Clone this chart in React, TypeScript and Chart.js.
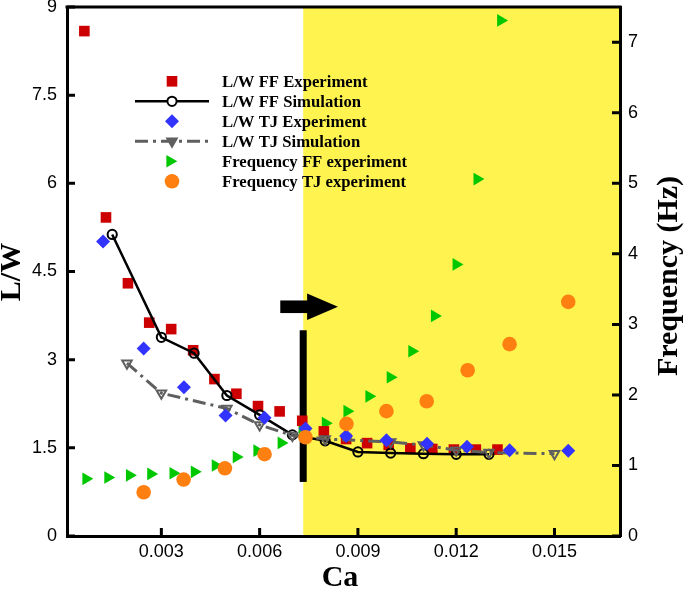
import React, { useEffect, useRef } from 'react';
import { Chart, registerables } from 'chart.js';

Chart.register(...registerables);

// ---------- data ----------
const ffExpCa = [0.00065, 0.00131, 0.00198, 0.00263, 0.0033, 0.00397, 0.00462, 0.00529, 0.00595, 0.00661, 0.0073, 0.00796, 0.00864, 0.00928, 0.00994, 0.0106, 0.01127, 0.01193, 0.0126, 0.01326];
const ffExpLW = [8.59, 5.42, 4.30, 3.63, 3.52, 3.16, 2.67, 2.42, 2.21, 2.12, 1.96, 1.78, 1.65, 1.58, 1.55, 1.49, 1.48, 1.47, 1.47, 1.47];

const ffSimCa = [0.0015, 0.003, 0.004, 0.005, 0.006, 0.007, 0.008, 0.009, 0.010, 0.011, 0.012, 0.013];
const ffSimLW = [5.13, 3.38, 3.11, 2.39, 2.06, 1.72, 1.62, 1.43, 1.41, 1.40, 1.39, 1.39];

const tjExpCa = [0.00122, 0.00246, 0.00369, 0.00496, 0.00615, 0.0074, 0.00864, 0.00987, 0.01111, 0.01233, 0.01363, 0.01542];
const tjExpLW = [5.01, 3.19, 2.53, 2.05, 2.01, 1.83, 1.70, 1.63, 1.57, 1.52, 1.46, 1.45];

const tjSimCa = [0.00195, 0.003, 0.005, 0.006, 0.007, 0.008, 0.010, 0.011, 0.012, 0.013, 0.015];
const tjSimLW = [2.94, 2.43, 2.17, 1.89, 1.71, 1.65, 1.60, 1.55, 1.46, 1.42, 1.40];

const freqFFCa = [0.0007, 0.00137, 0.00203, 0.00268, 0.00336, 0.00401, 0.00465, 0.00529, 0.00592, 0.00666, 0.0073, 0.00801, 0.00867, 0.00934, 0.00999, 0.01065, 0.01134, 0.0120, 0.01264, 0.01336];
const freqFF = [0.81, 0.83, 0.86, 0.88, 0.89, 0.91, 1.00, 1.12, 1.21, 1.32, 1.49, 1.60, 1.77, 1.98, 2.25, 2.62, 3.12, 3.85, 5.06, 7.31];

const freqTJCa = [0.00246, 0.00368, 0.00494, 0.00615, 0.0074, 0.00865, 0.00987, 0.0111, 0.01235, 0.01363, 0.01542];
const freqTJ = [0.62, 0.80, 0.96, 1.16, 1.40, 1.59, 1.77, 1.91, 2.35, 2.72, 3.32];

const xTicks = [0.003, 0.006, 0.009, 0.012, 0.015];
const yTicks = [0, 1.5, 3, 4.5, 6, 7.5, 9];
const y1Ticks = [0, 1, 2, 3, 4, 5, 6, 7];

const legendLabels = [
  'L/W FF Experiment',
  'L/W FF Simulation',
  'L/W TJ Experiment',
  'L/W TJ Simulation',
  'Frequency FF experiment',
  'Frequency TJ experiment',
];

// annotation values (data coordinates)
const regionStartCa = 0.00733;
const barLW = [0.92, 3.5];
const arrowCa = [0.00663, 0.00745, 0.00839];
const arrowLW = 3.9;

// ---------- styles ----------
const RED = '#cc0000';
const BLUE = '#3333ff';
const GREEN = '#00c800';
const ORANGE = '#ff7f10';
const GRAY = '#5f5f5f';
const YELLOW = '#fff44f';
const SERIF = '"Liberation Serif", "Times New Roman", serif';
const SANS = '"Liberation Sans", Arial, sans-serif';
const DASH = [13, 5, 3, 5];

const pts = (xs: number[], ys: number[]) => xs.map((x, i) => ({ x, y: ys[i] }));

function tri(ctx: CanvasRenderingContext2D, x: number, y: number, r: number, rotDeg: number) {
  let rad = (rotDeg * Math.PI) / 180;
  ctx.beginPath();
  for (let i = 0; i < 3; i++) {
    const px = x + Math.sin(rad) * r;
    const py = y - Math.cos(rad) * r;
    if (i === 0) ctx.moveTo(px, py);
    else ctx.lineTo(px, py);
    rad += (2 * Math.PI) / 3;
  }
  ctx.closePath();
}

const decor = {
  id: 'decor',
  beforeDraw(chart: any) {
    const { ctx, chartArea: a, scales } = chart;
    const x0 = scales.x.getPixelForValue(regionStartCa);
    ctx.save();
    ctx.fillStyle = YELLOW;
    ctx.fillRect(x0, a.top, a.right - x0, a.bottom - a.top);
    ctx.restore();
  },
  beforeDatasetsDraw(chart: any) {
    const { ctx, scales } = chart;
    const { x, y } = scales;
    ctx.save();
    const bx = x.getPixelForValue(regionStartCa);
    ctx.fillStyle = '#000';
    ctx.fillRect(bx - 3.5, y.getPixelForValue(barLW[1]), 7, y.getPixelForValue(barLW[0]) - y.getPixelForValue(barLW[1]));
    const ay = y.getPixelForValue(arrowLW);
    const a0 = x.getPixelForValue(arrowCa[0]);
    const a1 = x.getPixelForValue(arrowCa[1]);
    const a2 = x.getPixelForValue(arrowCa[2]);
    ctx.fillRect(a0, ay - 6.3, a1 - a0 + 1, 12.6);
    ctx.beginPath();
    ctx.moveTo(a1, ay - 13.3);
    ctx.lineTo(a2, ay);
    ctx.lineTo(a1, ay + 13.3);
    ctx.closePath();
    ctx.fill();
    ctx.restore();
  },
  afterDraw(chart: any) {
    const { ctx, chartArea: a, scales } = chart;
    const { x, y, y1 } = scales;
    ctx.save();
    ctx.strokeStyle = '#000';
    ctx.lineWidth = 3;
    ctx.beginPath();
    ctx.moveTo(a.left - 1.5, a.top);
    ctx.lineTo(a.right + 1.5, a.top);
    ctx.stroke();
    const TL = 8;
    ctx.beginPath();
    yTicks.forEach((v) => {
      const p = y.getPixelForValue(v);
      ctx.moveTo(a.left, p);
      ctx.lineTo(a.left + TL, p);
    });
    y1Ticks.forEach((v) => {
      const p = y1.getPixelForValue(v);
      ctx.moveTo(a.right, p);
      ctx.lineTo(a.right - TL, p);
    });
    xTicks.forEach((v) => {
      const p = x.getPixelForValue(v);
      ctx.moveTo(p, a.bottom);
      ctx.lineTo(p, a.bottom - TL);
    });
    ctx.stroke();

    ctx.fillStyle = '#000';
    ctx.font = `bold 30px ${SERIF}`;
    ctx.textAlign = 'center';
    ctx.textBaseline = 'middle';
    ctx.fillText('Ca', 340, 578);
    ctx.save();
    ctx.translate(12, 272);
    ctx.rotate(-Math.PI / 2);
    ctx.fillText('L/W', 0, 0);
    ctx.restore();
    ctx.save();
    ctx.translate(669, 276);
    ctx.rotate(-Math.PI / 2);
    ctx.fillText('Frequency (Hz)', 0, 0);
    ctx.restore();

    const mx = 172;
    const l0 = 135;
    const l1 = 209;
    const tx = 222;
    const rowY = (i: number) => 81.3 + i * 20;
    ctx.font = `bold 16.7px ${SERIF}`;
    ctx.textAlign = 'left';
    ctx.textBaseline = 'middle';
    legendLabels.forEach((lab, i) => {
      const cy = rowY(i);
      ctx.fillStyle = '#000';
      ctx.fillText(lab, tx, cy + 1);
      if (i === 0) {
        ctx.fillStyle = RED;
        ctx.fillRect(mx - 5.3, cy - 5.3, 10.6, 10.6);
      } else if (i === 1) {
        ctx.strokeStyle = '#000';
        ctx.lineWidth = 2.5;
        ctx.beginPath();
        ctx.moveTo(l0, cy);
        ctx.lineTo(l1, cy);
        ctx.stroke();
        ctx.beginPath();
        ctx.arc(mx, cy, 4.6, 0, Math.PI * 2);
        ctx.fillStyle = '#fff';
        ctx.fill();
        ctx.lineWidth = 2;
        ctx.stroke();
      } else if (i === 2) {
        ctx.fillStyle = BLUE;
        ctx.beginPath();
        ctx.moveTo(mx - 7, cy);
        ctx.lineTo(mx, cy - 7);
        ctx.lineTo(mx + 7, cy);
        ctx.lineTo(mx, cy + 7);
        ctx.closePath();
        ctx.fill();
      } else if (i === 3) {
        ctx.strokeStyle = GRAY;
        ctx.lineWidth = 3;
        ctx.setLineDash(DASH);
        ctx.beginPath();
        ctx.moveTo(l0, cy);
        ctx.lineTo(l1, cy);
        ctx.stroke();
        ctx.setLineDash([]);
        ctx.fillStyle = GRAY;
        ctx.lineWidth = 2;
        tri(ctx, mx, cy, 5.5, 180);
        ctx.fill();
        ctx.stroke();
      } else if (i === 4) {
        ctx.fillStyle = GREEN;
        tri(ctx, mx - 2, cy, 7.3, 90);
        ctx.fill();
      } else {
        ctx.fillStyle = ORANGE;
        ctx.beginPath();
        ctx.arc(mx, cy, 7.3, 0, Math.PI * 2);
        ctx.fill();
      }
    });
    ctx.restore();
  },
};

const noPad = (s: any) => {
  s.paddingTop = 0;
  s.paddingBottom = 0;
  s.paddingLeft = 0;
  s.paddingRight = 0;
};

export default function App() {
  const ref = useRef<HTMLCanvasElement>(null);
  useEffect(() => {
    document.body.style.margin = '0';
    const canvas = ref.current!;
    const chart = new Chart(canvas, {
      type: 'scatter',
      data: {
        datasets: [
          {
            label: legendLabels[0],
            data: pts(ffExpCa, ffExpLW),
            yAxisID: 'y',
            pointStyle: 'rect',
            pointRadius: 7.5,
            backgroundColor: RED,
            borderWidth: 0,
            order: 4,
          },
          {
            label: legendLabels[1],
            data: pts(ffSimCa, ffSimLW),
            yAxisID: 'y',
            showLine: true,
            borderColor: '#000',
            borderWidth: 2.5,
            pointStyle: 'circle',
            pointRadius: 4.6,
            pointBorderWidth: 2,
            pointBorderColor: '#000',
            pointBackgroundColor: 'rgba(0,0,0,0)',
            order: 3,
          },
          {
            label: legendLabels[2],
            data: pts(tjExpCa, tjExpLW),
            yAxisID: 'y',
            pointStyle: 'rectRot',
            pointRadius: 7,
            backgroundColor: BLUE,
            borderWidth: 0,
            order: 1,
          },
          {
            label: legendLabels[3],
            data: pts(tjSimCa, tjSimLW),
            yAxisID: 'y',
            showLine: true,
            borderColor: GRAY,
            borderWidth: 3,
            borderDash: DASH,
            pointStyle: 'triangle',
            rotation: 180,
            pointRadius: 5.5,
            pointBorderWidth: 2,
            pointBorderColor: GRAY,
            pointBackgroundColor: 'rgba(0,0,0,0)',
            order: 2,
          },
          {
            label: legendLabels[4],
            data: pts(freqFFCa, freqFF),
            yAxisID: 'y1',
            pointStyle: 'triangle',
            rotation: 90,
            pointRadius: 7.3,
            backgroundColor: GREEN,
            borderWidth: 0,
            order: 5,
          },
          {
            label: legendLabels[5],
            data: pts(freqTJCa, freqTJ),
            yAxisID: 'y1',
            pointStyle: 'circle',
            pointRadius: 7.3,
            backgroundColor: ORANGE,
            borderWidth: 0,
            order: 0,
          },
        ] as any,
      },
      options: {
        responsive: false,
        animation: false,
        layout: { padding: { top: 7, left: 0, right: 0, bottom: 0 }, autoPadding: false } as any,
        plugins: { legend: { display: false }, tooltip: { enabled: false } },
        scales: {
          x: {
            type: 'linear',
            position: 'bottom',
            min: 0.00012,
            max: 0.017,
            grid: { display: false, drawTicks: false },
            border: { display: true, width: 3, color: '#000' },
            ticks: {
              color: '#000',
              font: { family: SANS, size: 18 },
              padding: 5,
              maxRotation: 0,
              callback: (v: any) => Number(v).toFixed(3),
            },
            afterBuildTicks: (s: any) => {
              s.ticks = xTicks.map((value) => ({ value }));
            },
            afterFit: (s: any) => {
              s.height = 55;
              noPad(s);
            },
          },
          y: {
            type: 'linear',
            position: 'left',
            min: 0,
            max: 9,
            grid: { display: false, drawTicks: false },
            border: { display: true, width: 3, color: '#000' },
            ticks: {
              color: '#000',
              font: { family: SANS, size: 18 },
              padding: 10,
              callback: (v: any) => String(v),
            },
            afterBuildTicks: (s: any) => {
              s.ticks = yTicks.map((value) => ({ value }));
            },
            afterFit: (s: any) => {
              s.width = 67;
              noPad(s);
            },
          },
          y1: {
            type: 'linear',
            position: 'right',
            min: 0,
            max: 7.5,
            grid: { display: false, drawTicks: false },
            border: { display: true, width: 3, color: '#000' },
            ticks: {
              color: '#000',
              font: { family: SANS, size: 18 },
              padding: 8,
              callback: (v: any) => String(v),
            },
            afterBuildTicks: (s: any) => {
              s.ticks = y1Ticks.map((value) => ({ value }));
            },
            afterFit: (s: any) => {
              s.width = 65;
              noPad(s);
            },
          },
        },
      } as any,
      plugins: [decor],
    });
    return () => chart.destroy();
  }, []);
  return (
    <div style={{ width: 685, height: 591 }}>
      <canvas ref={ref} width={685} height={591} style={{ display: 'block' }} />
    </div>
  );
}
